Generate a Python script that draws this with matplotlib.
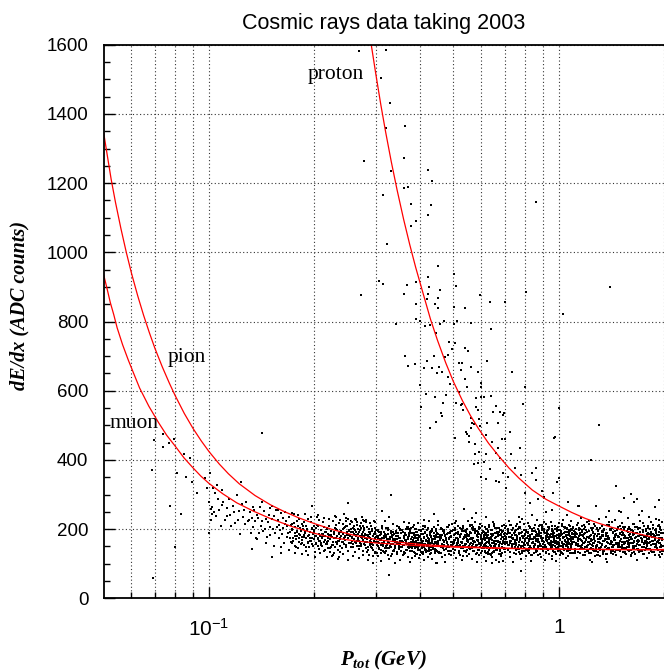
import matplotlib
matplotlib.use("Agg")
import matplotlib.pyplot as plt
from matplotlib.ticker import FixedLocator, FixedFormatter, MultipleLocator, NullFormatter

plt.rcParams['font.family'] = 'Liberation Sans'
plt.rcParams['mathtext.fontset'] = 'custom'
plt.rcParams['mathtext.sf'] = 'Liberation Sans'
plt.rcParams['mathtext.it'] = 'Liberation Serif:italic:bold'
plt.rcParams['mathtext.rm'] = 'Liberation Serif:bold'

# expected dE/dx curves (p in GeV, dE/dx in ADC counts)
muon_p = [0.05, 0.0511, 0.0522, 0.0534, 0.0546, 0.0566, 0.0588, 0.061, 0.0633, 0.0673,
          0.0717, 0.0757, 0.080, 0.0848, 0.0898, 0.0948, 0.10, 0.1095, 0.12, 0.1339,
          0.1494, 0.1729, 0.20, 0.2129, 0.2266, 0.2607, 0.30, 0.40, 0.50, 0.70, 1.0, 1.4, 2.0]
muon_y = [934, 895, 855, 820, 782, 733, 688, 648, 608, 555,
          508, 471, 440, 406, 378, 353, 332, 302, 276, 252,
          231, 207, 188, 181, 175, 166, 160, 152, 148, 144, 142, 141, 141]
pion_p = [0.05, 0.0512, 0.0525, 0.054, 0.056, 0.058, 0.060, 0.0625, 0.065, 0.0675,
          0.070, 0.0735, 0.077, 0.080, 0.085, 0.090, 0.095, 0.10, 0.107, 0.1136,
          0.122, 0.1354, 0.150, 0.1631, 0.180, 0.20, 0.2266, 0.26, 0.30, 0.35,
          0.40, 0.50, 0.70, 1.0, 1.4, 2.0]
pion_y = [1344, 1279, 1211, 1145, 1068, 1000, 940, 875, 818, 768,
          723, 669, 622, 586, 534, 491, 455, 424, 388, 360,
          331, 297, 270, 252, 233, 216, 198, 182, 170, 162,
          156, 150, 145, 142, 141, 140]
proton_p = [0.291, 0.300, 0.310, 0.320, 0.332, 0.345, 0.360, 0.375, 0.390, 0.410,
            0.430, 0.450, 0.475, 0.500, 0.530, 0.560, 0.590, 0.630, 0.675, 0.720,
            0.770, 0.840, 0.920, 1.0, 1.09, 1.19, 1.30, 1.42, 1.55, 1.694, 1.85, 2.0]
proton_y = [1600, 1514, 1426, 1347, 1262, 1180, 1096, 1022, 956, 879,
            806, 746, 681, 626, 572, 527, 490, 448, 410, 377,
            347, 313, 286, 267, 248, 231, 217, 205, 195, 186, 177, 170]

# measured tracks, low momentum tail
low_pts = [(0.0694, 457), (0.0741, 475), (0.0737, 436), (0.0766, 450), (0.0796, 460), (0.0685, 371),
           (0.0774, 267), (0.0830, 243), (0.0690, 58), (0.0800, 149), (0.0812, 361), (0.0848, 416),
           (0.0881, 405), (0.0862, 350), (0.0893, 337), (0.0921, 305), (0.0975, 347), (0.1004, 361),
           (0.0998, 188), (0.1010, 257), (0.0988, 318), (0.1029, 318), (0.1019, 244), (0.1057, 327),
           (0.1087, 313), (0.1414, 477), (0.1236, 337)]

band_a = [(0.1002, 279), (0.1011, 227), (0.1019, 265), (0.1031, 249), (0.1038, 303), (0.1049, 238),
          (0.1061, 286), (0.1068, 254), (0.1079, 209), (0.1092, 269), (0.1099, 277), (0.1108, 227),
          (0.1122, 260), (0.1129, 237), (0.1141, 287), (0.1150, 242), (0.1158, 208), (0.1171, 268),
          (0.1182, 248), (0.1189, 217), (0.1203, 298), (0.1209, 226), (0.1222, 253), (0.1228, 186),
          (0.1241, 272), (0.1252, 234), (0.1259, 254), (0.1271, 214), (0.1279, 278), (0.1292, 223)]

band_b = [(0.1303, 226), (0.1311, 248), (0.1322, 190), (0.1329, 232), (0.1340, 206), (0.1347, 254),
          (0.1356, 222), (0.1366, 175), (0.1372, 241), (0.1384, 231), (0.1391, 190), (0.1402, 263),
          (0.1408, 210), (0.1419, 222), (0.1427, 195), (0.1436, 252), (0.1444, 201), (0.1455, 229),
          (0.1461, 176), (0.1473, 220), (0.1480, 240), (0.1491, 207), (0.1498, 182), (0.1509, 230),
          (0.1517, 267), (0.1526, 199), (0.1533, 238), (0.1545, 190), (0.1552, 256), (0.1563, 205),
          (0.1570, 225), (0.1581, 175), (0.1588, 212), (0.1597, 197), (0.1606, 247), (0.1614, 186),
          (0.1623, 231), (0.1631, 202), (0.1642, 160), (0.1649, 216), (0.1658, 224), (0.1667, 178),
          (0.1673, 209), (0.1684, 188), (0.1695, 235)]

band_c = [(0.1703, 192), (0.1711, 164), (0.1722, 215), (0.1728, 199), (0.1737, 173), (0.1745, 243),
          (0.1756, 181), (0.1762, 205), (0.1773, 148), (0.1779, 222), (0.1790, 191), (0.1797, 208),
          (0.1806, 175), (0.1814, 230), (0.1823, 183), (0.1831, 194), (0.1840, 216), (0.1847, 161),
          (0.1858, 200), (0.1864, 176), (0.1875, 221), (0.1882, 191), (0.1891, 149), (0.1899, 209),
          (0.1907, 201), (0.1916, 163), (0.1924, 230), (0.1933, 182), (0.1940, 192), (0.1950, 167),
          (0.1957, 221), (0.1966, 175), (0.1975, 200), (0.1982, 151), (0.1992, 193), (0.2001, 210),
          (0.2009, 181), (0.2017, 158), (0.2027, 202), (0.2034, 236), (0.2043, 174), (0.2051, 210),
          (0.2060, 166), (0.2068, 227), (0.2077, 180), (0.2085, 198), (0.2094, 154), (0.2102, 187),
          (0.2111, 173), (0.2119, 220), (0.2128, 164), (0.2136, 206), (0.2145, 180), (0.2153, 140),
          (0.2162, 192), (0.2171, 200), (0.2179, 157), (0.2188, 186), (0.2196, 167), (0.2205, 210),
          (0.2213, 172), (0.2222, 144), (0.2230, 195), (0.2239, 179), (0.2247, 153), (0.2256, 224),
          (0.2264, 162), (0.2273, 186), (0.2281, 130), (0.2290, 204)]

band_d = [(0.2304, 173), (0.2312, 211), (0.2322, 160), (0.2330, 197), (0.2339, 166), (0.2348, 218),
          (0.2356, 189), (0.2366, 152), (0.2373, 171), (0.2383, 195), (0.2391, 180), (0.2400, 145),
          (0.2409, 186), (0.2417, 164), (0.2426, 203), (0.2435, 158), (0.2443, 178), (0.2452, 169),
          (0.2461, 209), (0.2469, 153), (0.2478, 182), (0.2487, 189), (0.2495, 138), (0.2504, 173),
          (0.2513, 198), (0.2521, 160), (0.2530, 180), (0.2539, 147), (0.2548, 192), (0.2556, 174),
          (0.2565, 165), (0.2574, 203), (0.2582, 157), (0.2591, 185), (0.2600, 170), (0.2609, 196),
          (0.2617, 134), (0.2626, 181), (0.2635, 161), (0.2643, 212), (0.2652, 150), (0.2661, 172),
          (0.2670, 185), (0.2678, 142), (0.2687, 165), (0.2696, 197), (0.2704, 160), (0.2713, 176),
          (0.2722, 152), (0.2730, 187), (0.2739, 180), (0.2748, 137), (0.2756, 169), (0.2765, 191),
          (0.2774, 156), (0.2782, 202), (0.2791, 163), (0.2800, 174), (0.2809, 146), (0.2817, 183),
          (0.2826, 171), (0.2835, 133), (0.2843, 184), (0.2852, 147), (0.2861, 178), (0.2869, 126),
          (0.2878, 155), (0.2887, 192), (0.2895, 173), (0.2904, 149), (0.2913, 164), (0.2921, 199),
          (0.2930, 158), (0.2939, 180), (0.2947, 141), (0.2956, 186), (0.2965, 166), (0.2973, 175),
          (0.2982, 135), (0.2991, 191)]

wing_low = [(0.1335, 265), (0.1372, 172), (0.1418, 278), (0.1455, 160), (0.1497, 262), (0.1538, 152),
            (0.1572, 254), (0.1611, 148), (0.1652, 250), (0.1689, 140), (0.1728, 246), (0.1766, 132),
            (0.1801, 240), (0.1845, 128), (0.1882, 244), (0.1921, 125), (0.1963, 236), (0.2004, 120),
            (0.2047, 241), (0.2083, 131), (0.2126, 233), (0.2168, 118), (0.2205, 229), (0.2247, 122),
            (0.2289, 238), (0.2331, 115), (0.2374, 226), (0.2419, 128), (0.2458, 231), (0.2503, 112),
            (0.2548, 222), (0.2589, 121), (0.2634, 228), (0.2677, 117), (0.2716, 219), (0.2762, 126),
            (0.2808, 225), (0.2851, 110), (0.2893, 217), (0.2946, 123), (0.2977, 221)]

# dense minimum-ionising band, 0.3 - 2 GeV
band_e_p = [0.3005, 0.3016, 0.3035, 0.3048, 0.3065, 0.3077, 0.3095, 0.3109, 0.3125, 0.3140,
            0.3155, 0.3166, 0.3185, 0.3198, 0.3215, 0.3227, 0.3245, 0.3259, 0.3275, 0.3290,
            0.3305, 0.3316, 0.3335, 0.3348, 0.3365, 0.3377, 0.3395, 0.3409, 0.3425, 0.3440,
            0.3455, 0.3466, 0.3485, 0.3498, 0.3515, 0.3527, 0.3545, 0.3559, 0.3575, 0.3590,
            0.3605, 0.3616, 0.3635, 0.3648, 0.3665, 0.3677, 0.3695, 0.3709, 0.3725, 0.3740,
            0.3755, 0.3766, 0.3785, 0.3798, 0.3815, 0.3827, 0.3845, 0.3859, 0.3875, 0.3890,
            0.3905, 0.3916, 0.3935, 0.3948, 0.3965, 0.3977, 0.3995, 0.4009, 0.4025, 0.4040,
            0.4055, 0.4066, 0.4085, 0.4098, 0.4115, 0.4127, 0.4145, 0.4159, 0.4175, 0.4190,
            0.4205, 0.4216, 0.4235, 0.4248, 0.4265, 0.4277, 0.4295, 0.4309, 0.4325, 0.4340,
            0.4355, 0.4366, 0.4385, 0.4398, 0.4415, 0.4427, 0.4445, 0.4459, 0.4475, 0.4490]
band_e_y = [163, 131, 174, 181, 146, 170, 154, 191, 159, 136, 179, 166, 144, 203, 152, 172, 125, 187,
            161, 176, 148, 194, 156, 165, 183, 138, 171, 151, 189, 164, 129, 180, 173, 142, 198, 158,
            167, 147, 192, 153, 175, 134, 169, 184, 160, 141, 178, 207, 155, 186, 149, 200, 162,
            153, 190, 162, 173, 134, 180, 145, 167, 199, 156, 149, 184, 160, 176, 139, 171, 194, 151,
            164, 186, 127, 178, 158, 205, 143, 169, 154, 182, 136, 174, 165, 147, 192, 159, 179, 141,
            166, 201, 150, 157, 188, 132, 172, 163, 183, 138, 177]
wing_e_y = [197, 122, 191, 108, 210, 133, 224, 137, 202, 115, 188, 127, 215, 101, 194, 134, 207, 112,
            190, 125, 221, 130, 199, 118, 189, 105, 204, 136, 212, 123, 193, 129, 218, 116, 187, 132,
            201, 110, 209, 135, 196, 120, 223, 128, 192, 113, 205, 137, 198, 103]

band_f_p = [0.4505, 0.4522, 0.4550, 0.4567, 0.4595, 0.4613, 0.4640, 0.4658, 0.4685, 0.4704,
            0.4732, 0.4749, 0.4777, 0.4794, 0.4822, 0.4840, 0.4867, 0.4885, 0.4912, 0.4931,
            0.4959, 0.4976, 0.5004, 0.5021, 0.5049, 0.5067, 0.5094, 0.5112, 0.5139, 0.5158,
            0.5186, 0.5203, 0.5231, 0.5248, 0.5276, 0.5294, 0.5321, 0.5339, 0.5366, 0.5385,
            0.5413, 0.5430, 0.5458, 0.5475, 0.5503, 0.5521, 0.5548, 0.5566, 0.5593, 0.5612,
            0.5640, 0.5657, 0.5685, 0.5702, 0.5730, 0.5748, 0.5775, 0.5793, 0.5820, 0.5839,
            0.5867, 0.5884, 0.5912, 0.5929, 0.5957, 0.5975, 0.6002, 0.6020, 0.6047, 0.6066,
            0.6094, 0.6111, 0.6139, 0.6156, 0.6184, 0.6202, 0.6229, 0.6247, 0.6274, 0.6293,
            0.6321, 0.6338, 0.6366, 0.6383, 0.6411, 0.6429, 0.6456, 0.6474, 0.6501, 0.6520,
            0.6548, 0.6565, 0.6593, 0.6610, 0.6638, 0.6656, 0.6683, 0.6701, 0.6728, 0.6747,
            0.6775, 0.6792, 0.6820, 0.6837, 0.6865, 0.6883, 0.6910, 0.6928, 0.6955, 0.6974]
band_f_y = [157, 185, 134, 168, 179, 152, 200, 144, 166, 191, 126, 174, 161, 148, 188, 171, 138, 177,
            155, 195, 163, 142, 182, 131, 169, 204, 150, 173, 159, 187, 136, 180, 153, 164, 198, 145,
            170, 122, 176, 184, 156, 192, 140, 167, 149, 181, 129, 172, 189, 160, 146, 175, 201, 137,
            165,
            163, 191, 127, 153, 182, 168, 139, 156, 199, 147, 179, 161, 188, 136, 172, 144, 152, 206,
            158, 183, 130, 164, 175, 148, 192, 141, 169, 155, 178, 124, 159, 197, 146, 186, 165, 133,
            173, 151, 190, 157, 140, 180, 167, 154, 202, 137, 162, 184, 128, 176, 149, 160, 194, 143,
            171]
wing_f_y = [222, 131, 200, 119, 190, 106, 205, 137, 213, 124, 194, 130, 219, 117, 188, 133, 202, 111,
            210, 136, 197, 121, 224, 129, 193, 114, 206, 138, 199, 104, 191, 125, 215, 132, 209, 120,
            189, 108, 201, 134, 212, 127, 196, 118, 221, 136, 204, 112, 190, 129, 198, 123, 192, 109,
            211]

band_g_p = [0.7010, 0.7035, 0.7076, 0.7102, 0.7143, 0.7168, 0.7210, 0.7235, 0.7276, 0.7302,
            0.7343, 0.7368, 0.7409, 0.7435, 0.7476, 0.7501, 0.7543, 0.7568, 0.7609, 0.7635,
            0.7676, 0.7701, 0.7742, 0.7768, 0.7809, 0.7834, 0.7876, 0.7901, 0.7942, 0.7968,
            0.8009, 0.8034, 0.8075, 0.8101, 0.8142, 0.8167, 0.8209, 0.8234, 0.8275, 0.8301,
            0.8342, 0.8367, 0.8408, 0.8434, 0.8475, 0.8500, 0.8542, 0.8567, 0.8608, 0.8634,
            0.8675, 0.8700, 0.8741, 0.8767, 0.8808, 0.8833, 0.8875, 0.8900, 0.8941, 0.8967,
            0.9008, 0.9033, 0.9074, 0.9100, 0.9141, 0.9166, 0.9208, 0.9233, 0.9274, 0.9300,
            0.9341, 0.9366, 0.9407, 0.9433, 0.9474, 0.9499, 0.9541, 0.9566, 0.9607, 0.9633,
            0.9674, 0.9699, 0.9740, 0.9766, 0.9807, 0.9832, 0.9874, 0.9899, 0.9940, 0.9966,
            1.0007, 1.0032, 1.0073, 1.0099, 1.0140, 1.0165, 1.0207, 1.0232, 1.0273, 1.0299,
            1.0340, 1.0365, 1.0406, 1.0432, 1.0473, 1.0498, 1.0540, 1.0565, 1.0606, 1.0632,
            1.0673, 1.0698, 1.0739, 1.0765, 1.0806, 1.0831, 1.0873, 1.0898, 1.0939, 1.0965]
band_g_y = [180, 143, 171, 160, 199, 153, 188, 166, 134, 177, 184, 149, 173, 157, 194, 162, 139, 182,
            169, 147, 206, 155, 175, 128, 190, 164, 179, 151, 197, 159, 168, 186, 141, 174, 154, 192,
            167, 132, 183, 176, 145, 201, 161, 170, 150, 195, 156, 178, 137, 172, 187, 163, 144, 181,
            210, 158, 189, 152, 203, 165,
            175, 147, 198, 164, 153, 180, 132, 188, 166, 141, 206, 158, 171, 184, 144, 161, 194, 155,
            177, 137, 169, 190, 150, 201, 163, 128, 182, 159, 173, 145, 196, 152, 179, 168, 134, 187,
            162, 210, 156, 148, 176, 140, 192, 165, 183, 151, 203, 160, 143, 172, 186, 157, 131, 195,
            167, 170, 146, 189, 158, 178]
wing_g_y = [133, 208, 139, 222, 120, 197, 106, 193, 128, 215, 142, 203, 115, 229, 136, 196, 123, 218,
            140, 205, 109, 200, 131, 212, 141, 225, 126, 194, 118, 207, 137, 201, 112, 214, 143, 198,
            129, 220, 121, 195, 134, 210, 107, 202, 138, 217, 125, 193, 132, 227, 140, 206, 116, 199,
            122, 211, 142, 223, 130, 197]

band_h_p = [1.1000, 1.1038, 1.1096, 1.1134, 1.1192, 1.1230, 1.1288, 1.1326, 1.1384, 1.1422,
            1.1480, 1.1520, 1.1580, 1.1620, 1.1680, 1.1720, 1.1780, 1.1820, 1.1880, 1.1920,
            1.1980, 1.2022, 1.2084, 1.2126, 1.2188, 1.2230, 1.2292, 1.2334, 1.2396, 1.2438,
            1.2500, 1.2543, 1.2608, 1.2651, 1.2716, 1.2759, 1.2824, 1.2867, 1.2932, 1.2975,
            1.3040, 1.3086, 1.3154, 1.3200, 1.3268, 1.3314, 1.3382, 1.3428, 1.3496, 1.3542,
            1.3610, 1.3657, 1.3728, 1.3775, 1.3846, 1.3893, 1.3964, 1.4011, 1.4082, 1.4129,
            1.4200, 1.4250, 1.4324, 1.4374, 1.4448, 1.4498, 1.4572, 1.4622, 1.4696, 1.4746,
            1.4820, 1.4871, 1.4948, 1.4999, 1.5076, 1.5127, 1.5204, 1.5255, 1.5332, 1.5383,
            1.5460, 1.5514, 1.5594, 1.5648, 1.5728, 1.5782, 1.5862, 1.5916, 1.5996, 1.6050,
            1.6130, 1.6186, 1.6270, 1.6326, 1.6410, 1.6466, 1.6550, 1.6606, 1.6690, 1.6746,
            1.6830, 1.6889, 1.6978, 1.7037, 1.7126, 1.7185, 1.7274, 1.7333, 1.7422, 1.7481,
            1.7570, 1.7631, 1.7722, 1.7783, 1.7874, 1.7935, 1.8026, 1.8087, 1.8178, 1.8239,
            1.8330, 1.8394, 1.8490, 1.8554, 1.8650, 1.8714, 1.8810, 1.8874, 1.8970, 1.9034,
            1.9130, 1.9196, 1.9296, 1.9362, 1.9462, 1.9528, 1.9628, 1.9694, 1.9794, 1.9860]
band_h_y = [164, 195, 139, 176, 189, 159, 212, 150, 174, 202, 130, 183, 169, 154, 198, 180, 143, 186,
            162, 206, 171, 148, 192, 136, 178, 216, 157, 182, 166, 197, 141, 190, 160, 172, 209, 151,
            179, 126, 185, 194, 163, 203, 146, 175, 155, 191, 133, 181, 200, 168, 152, 184, 213, 142,
            173,
            171, 213, 156, 197, 163, 220, 188, 148, 168, 195, 178, 140, 185, 161, 204, 154, 176, 166,
            210, 149, 183, 191, 134, 173, 200, 159, 181, 144, 194, 174, 164, 206, 155, 186, 170, 198,
            130, 182, 160, 216, 151, 175, 189, 142, 167, 203, 162, 180, 153, 192, 184, 137, 172, 196,
            157, 208, 165, 177, 146, 187,
            163, 204, 173, 185, 142, 193, 154, 178, 213, 166, 158, 197, 170, 188, 147, 183, 208, 161,
            175, 199, 134, 190, 168, 220, 152]
wing_h_y = [206, 131, 200, 117, 219, 142, 233, 146, 211, 124, 197, 136, 224, 110, 203, 143, 216, 121,
            199, 134, 230, 139, 208, 127, 198, 114, 213, 145, 221, 132, 202, 138, 227, 125, 196, 141,
            210, 119, 218, 144, 205, 129, 232, 137, 201, 122, 214, 146, 207, 112, 199, 133, 223, 140,
            217, 128, 197, 116, 209, 142, 220, 135, 204, 126, 229, 144, 212, 120, 198, 137]

# stray tracks just off the band
stray_pts = [(0.231, 234), (0.263, 226), (0.278, 223), (0.327, 234), (0.373, 218), (0.412, 226),
             (0.508, 223), (0.566, 231), (0.579, 246), (0.619, 236), (0.2935, 103), (0.236, 120),
             (0.381, 116), (0.445, 101), (0.646, 101), (1.241, 106), (1.376, 106), (0.675, 106),
             (0.958, 113), (1.057, 241), (1.361, 236), (1.502, 250), (1.694, 241), (1.81, 234),
             (1.93, 226), (0.84, 241), (0.917, 250), (0.77, 236), (0.1324, 142), (0.151, 118),
             (0.161, 130), (0.249, 276), (0.312, 253), (0.331, 298), (0.197, 267), (0.536, 257),
             (0.44, 244), (0.327, 67), (0.778, 80), (1.142, 267), (1.274, 267), (0.958, 255)]

# proton branch
proton_pts = [(0.2676, 1583), (0.3217, 1585), (0.310, 1503), (0.329, 1431), (0.3217, 1358), (0.3637, 1366),
              (0.2783, 1265), (0.3612, 1273), (0.3318, 1236), (0.4240, 1239), (0.4336, 1206), (0.362, 1187),
              (0.3716, 1190), (0.3143, 1165), (0.3783, 1139), (0.4318, 1136), (0.4240, 1107), (0.3918, 1090),
              (0.3783, 1076), (0.3232, 1024), (0.859, 1145),
              (0.2717, 876), (0.3069, 918), (0.3148, 907), (0.3603, 879), (0.369, 905), (0.3918, 914),
              (0.3904, 850), (0.4240, 928), (0.427, 901), (0.4225, 879), (0.4205, 864), (0.4513, 960),
              (0.4571, 891), (0.4513, 869), (0.4414, 850), (0.453, 840), (0.502, 937), (0.5077, 903),
              (0.5033, 841), (0.5386, 838), (0.5957, 877), (0.6348, 857), (0.7005, 855), (0.8043, 884),
              (1.028, 821), (1.397, 900),
              (0.3422, 793), (0.3904, 806), (0.401, 801), (0.4153, 788), (0.4571, 792), (0.4692, 801),
              (0.5033, 793), (0.5131, 802), (0.5617, 795), (0.639, 777), (0.4453, 766), (0.4288, 790),
              (0.4859, 740), (0.5046, 739), (0.4948, 720), (0.5395, 723), (0.5495, 715), (0.3637, 700),
              (0.3707, 671), (0.3869, 677), (0.4213, 686), (0.440, 700), (0.4729, 696), (0.482, 703),
              (0.519, 681), (0.530, 681), (0.6225, 686), (0.4121, 666), (0.4345, 665), (0.4472, 650),
              (0.4632, 655), (0.4808, 640), (0.5247, 660), (0.5395, 633), (0.5480, 610), (0.5601, 669),
              (0.5890, 655), (0.5980, 623), (0.600, 610), (0.7337, 655), (0.8003, 610), (0.4553, 668),
              (0.401, 616), (0.4173, 590), (0.4432, 583), (0.4669, 565), (0.4594, 535), (0.4632, 527),
              (0.4036, 552), (0.4453, 510), (0.4288, 491), (0.5079, 565), (0.5247, 559), (0.530, 561),
              (0.5787, 578), (0.5787, 554), (0.600, 583), (0.612, 583), (0.639, 585), (0.6487, 539),
              (0.6632, 556), (0.6779, 539), (0.693, 530), (0.4896, 618), (0.4766, 588), (0.5188, 595),
              (0.5330, 545), (0.5865, 545), (0.79, 561), (0.6972, 535), (1.0, 549),
              (0.5662, 508), (0.5722, 504), (0.5897, 517), (0.6249, 506), (0.669, 508), (0.5056, 462),
              (0.542, 481), (0.548, 475), (0.5601, 491), (0.5521, 453), (0.6896, 459), (0.7021, 459),
              (0.6718, 434), (0.7734, 434), (0.5897, 424), (0.5758, 417), (0.6207, 417), (0.9753, 465),
              (1.302, 501), (0.5601, 520), (0.5957, 498), (0.6437, 451), (0.6118, 395), (0.5521, 470),
              (0.5758, 445), (0.6207, 472), (0.7254, 481), (0.9689, 462),
              (0.5722, 388), (0.589, 392), (0.600, 350), (0.6184, 344), (0.660, 340), (0.675, 337),
              (0.693, 361), (0.705, 318), (0.7175, 350), (0.7497, 376), (0.778, 356), (0.800, 305),
              (0.8275, 276), (0.840, 361), (0.859, 376), (0.8626, 342), (0.8738, 288), (0.8973, 311),
              (0.9073, 294), (0.9626, 303), (0.990, 337), (1.0, 347), (1.064, 279), (1.137, 267),
              (1.233, 400), (1.454, 325), (1.535, 289), (1.614, 301), (1.640, 277), (1.675, 286),
              (1.730, 253), (1.93, 284), (1.391, 253), (1.486, 253), (0.635, 373), (0.660, 419),
              (0.679, 405), (0.729, 417), (1.89, 263)]

x_minor = [0.06, 0.07, 0.08, 0.09, 0.2, 0.3, 0.4, 0.5, 0.6, 0.7, 0.8, 0.9, 2.0]

# collect the points
pts = low_pts + band_a + band_b + band_c + band_d + wing_low + stray_pts + proton_pts
pts_p = [p for p, _ in pts]
pts_y = [y for _, y in pts]
dense_p = band_e_p + band_f_p + band_g_p + band_h_p
dense_y = band_e_y + band_f_y + band_g_y + band_h_y
# the band is much denser than one sampling: draw the same read values again,
# shifted along the list, to fill it in
n = len(dense_y)
dense_y2 = dense_y[n // 2:] + dense_y[:n // 2]
dense_y3 = dense_y[n // 4:] + dense_y[:n // 4]
wing_p = band_e_p[::2] + band_f_p[::2] + band_g_p[::2] + band_h_p[::2]
wing_y = wing_e_y + wing_f_y + wing_g_y + wing_h_y
# same for the 0.17 - 0.3 GeV part of the band
low_p2 = [p for p, _ in band_c + band_d]
low_y2 = [y for _, y in band_d + band_c]

fig = plt.figure(figsize=(6.64, 6.72), dpi=100)
ax = fig.add_axes([0.15625, 0.10967, 0.84375, 0.82381])

ax.set_xscale('log')
ax.set_xlim(0.05, 2)
ax.set_ylim(0, 1600)

ax.xaxis.set_major_locator(FixedLocator([0.1, 1]))
ax.xaxis.set_major_formatter(FixedFormatter([r'$\mathsf{10^{-1}}$', '1']))
ax.xaxis.set_minor_locator(FixedLocator(x_minor))
ax.xaxis.set_minor_formatter(NullFormatter())
ax.yaxis.set_major_locator(MultipleLocator(200))
ax.yaxis.set_minor_locator(MultipleLocator(50))

grid_style = dict(color='0.2', linestyle=(0, (1, 2.2)), linewidth=0.8)
ax.grid(True, which='major', axis='both', **grid_style)
ax.grid(True, which='minor', axis='x', **grid_style)
ax.set_axisbelow(True)

ax.tick_params(which='both', direction='in', top=False, right=False, width=1, color='black')
ax.tick_params(which='major', length=8)
ax.tick_params(which='minor', length=4)
ax.tick_params(axis='y', labelsize=13.5, pad=11)
ax.tick_params(axis='x', labelsize=15, pad=14)

for side in ['left', 'bottom', 'top']:
    ax.spines[side].set_linewidth(1.3)
ax.spines['right'].set_visible(False)

dot = dict(linestyle='none', marker='s', markersize=1.5, markeredgewidth=0, color='black')
ax.plot(pts_p, pts_y, **dot)
ax.plot(dense_p, dense_y, **dot)
ax.plot(dense_p, dense_y2, **dot)
ax.plot(dense_p, dense_y3, **dot)
ax.plot(wing_p, wing_y, **dot)
ax.plot(low_p2, low_y2, **dot)

ax.plot(muon_p, muon_y, color='red', linewidth=0.9)
ax.plot(pion_p, pion_y, color='red', linewidth=0.9)
ax.plot(proton_p, proton_y, color='red', linewidth=0.9)

lab = dict(family='Liberation Serif', fontsize=15.5, va='baseline')
ax.text(0.1913, 1500, 'proton', **lab)
ax.text(0.0761, 682, 'pion', **lab)
ax.text(0.0519, 491, 'muon', **lab)

ax.set_title('Cosmic rays data taking 2003', fontsize=15.5, pad=11)
fig.text(0.577, 0.0104, r'$P_{tot}$ (GeV)', family='Liberation Serif', weight='bold',
         style='italic', fontsize=15, ha='center', va='baseline')
fig.text(0.0286, 0.546, 'dE/dx (ADC counts)', family='Liberation Serif', weight='bold',
         style='italic', fontsize=14.5, rotation=90, ha='center', va='center')

fig.savefig('out.png', dpi=100)
